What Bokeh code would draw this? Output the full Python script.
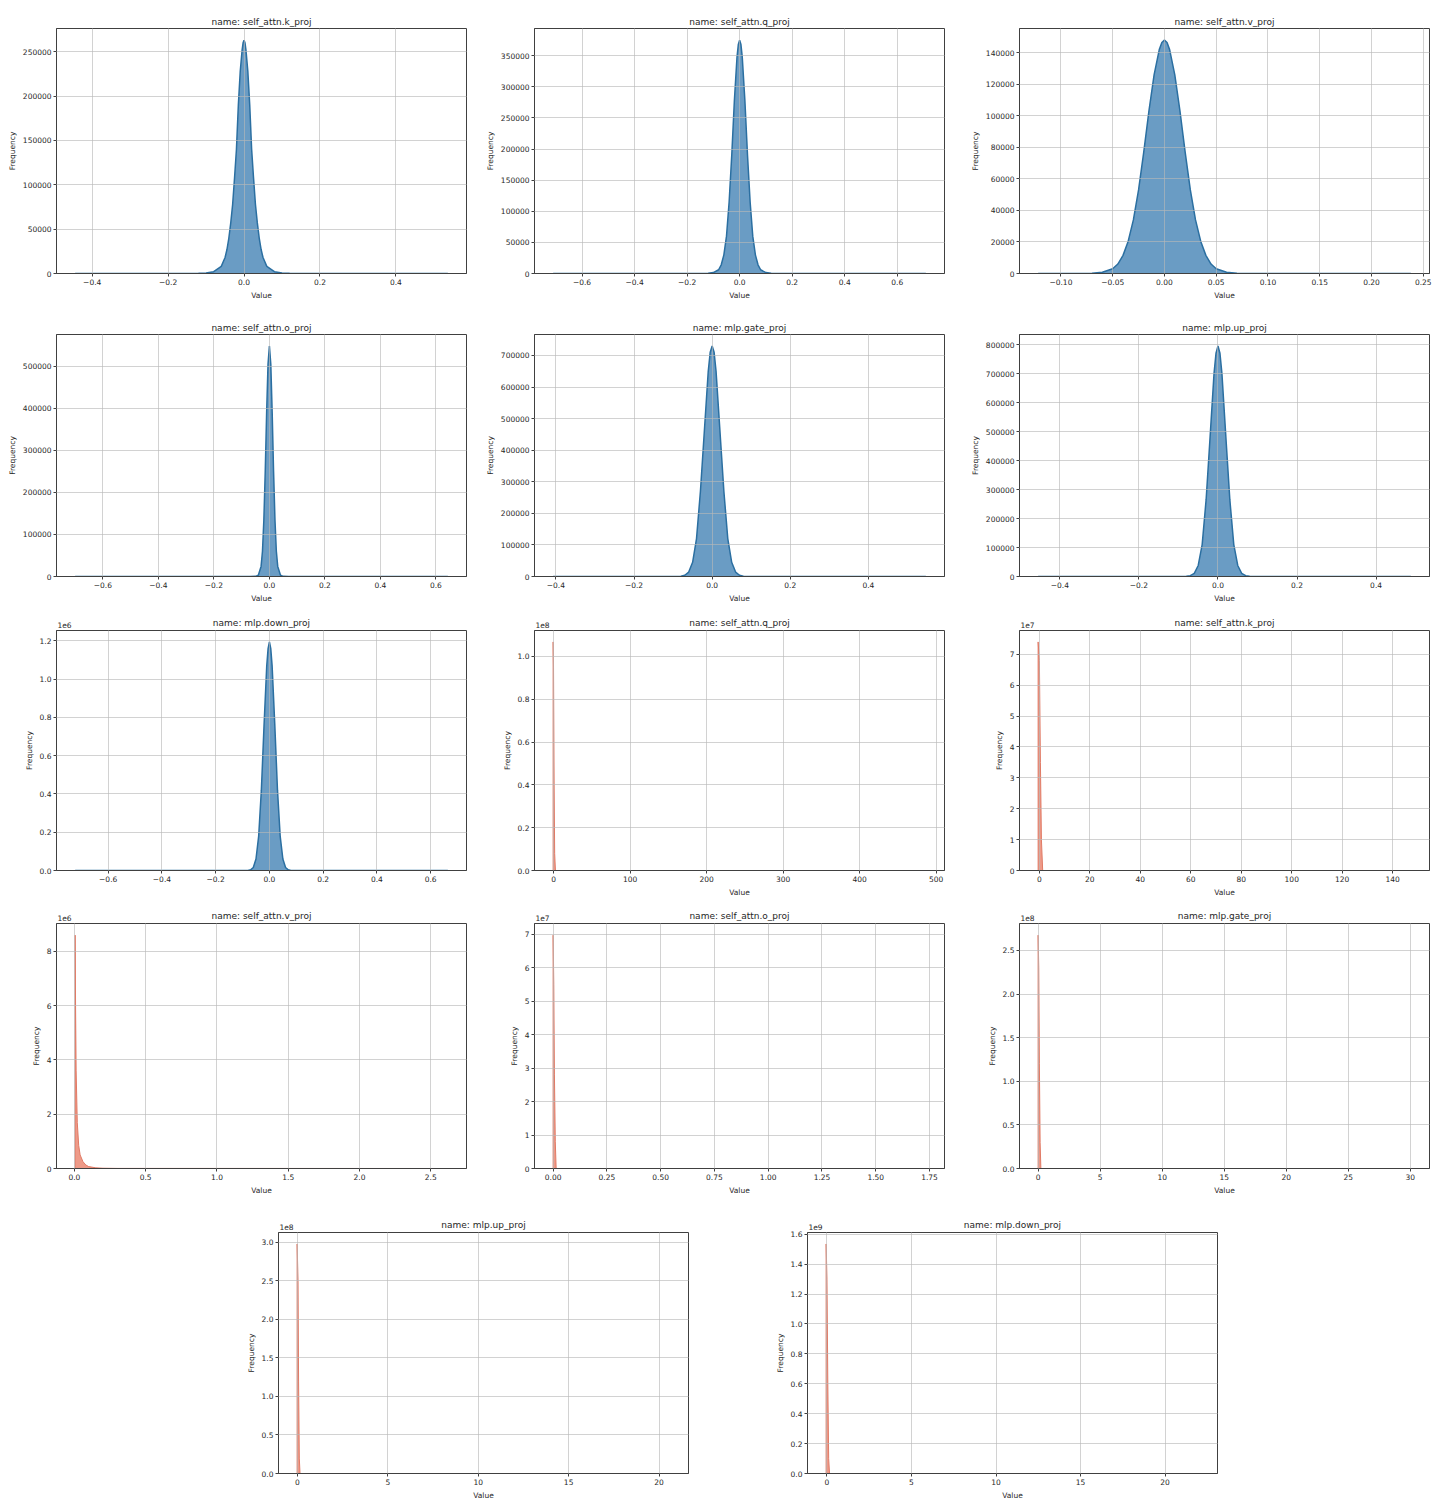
from bokeh.plotting import figure
from bokeh.layouts import column, row
from bokeh.models import FixedTicker, CustomJSTickFormatter, Spacer, Range1d, LinearAxis
from bokeh.embed import file_html
from bokeh.resources import INLINE

# ---------------- data ----------------
TITLES = ["name: self_attn.k_proj", "name: self_attn.q_proj", "name: self_attn.v_proj",
          "name: self_attn.o_proj", "name: mlp.gate_proj", "name: mlp.up_proj",
          "name: mlp.down_proj", "name: self_attn.q_proj", "name: self_attn.k_proj",
          "name: self_attn.v_proj", "name: self_attn.o_proj", "name: mlp.gate_proj",
          "name: mlp.up_proj", "name: mlp.down_proj"]

# blue panels (weights)
W_K_X = [-0.445, -0.2, -0.15, -0.12, -0.1, -0.08, -0.06, -0.05, -0.045, -0.04, -0.035, -0.03, -0.025, -0.02,
         -0.015, -0.01, -0.005, -0.0025, 0.0, 0.0025, 0.005, 0.01, 0.015, 0.02, 0.025, 0.03, 0.035, 0.04,
         0.045, 0.05, 0.06, 0.08, 0.1, 0.12, 0.15, 0.2, 0.537]
W_K_Y = [0, 8, 40, 150, 600, 2000, 8000, 18000, 27000, 40000, 57000, 78000, 108000, 140000,
         190000, 228000, 252000, 260000, 263000, 260000, 252000, 228000, 190000, 140000, 108000, 78000, 57000, 40000,
         27000, 18000, 8000, 2000, 600, 150, 40, 8, 0]

W_Q_X = [-0.71, -0.3, -0.2, -0.15, -0.12, -0.1, -0.08, -0.07, -0.06, -0.05, -0.04, -0.03, -0.02, -0.01, -0.005, 0.0,
         0.005, 0.01, 0.02, 0.03, 0.04, 0.05, 0.06, 0.07, 0.08, 0.1, 0.12, 0.15, 0.2, 0.3, 0.709]
W_Q_Y = [0, 10, 20, 100, 400, 1500, 6000, 14000, 30000, 60000, 115000, 190000, 278000, 348000, 368000, 375000,
         368000, 348000, 278000, 190000, 115000, 60000, 30000, 14000, 6000, 1500, 400, 100, 20, 10, 0]

W_V_X = [-0.122, -0.1, -0.08, -0.07, -0.06, -0.05, -0.045, -0.04, -0.035, -0.03, -0.025, -0.02, -0.015, -0.01,
         -0.005, -0.0025, 0.0, 0.0025, 0.005, 0.01, 0.015, 0.02, 0.025, 0.03, 0.035, 0.04, 0.045, 0.05, 0.06,
         0.07, 0.08, 0.1, 0.15, 0.238]
W_V_Y = [0, 8, 50, 200, 800, 3000, 6000, 11500, 20500, 34000, 53000, 77000, 103000, 126000,
         142000, 146500, 148000, 146500, 142000, 126000, 103000, 77000, 53000, 34000, 20500, 11500, 6000, 3000, 800,
         200, 50, 8, 2, 0]

W_O_X = [-0.70, -0.1, -0.07, -0.05, -0.04, -0.03, -0.025, -0.02, -0.015, -0.01, -0.005, 0.0,
         0.005, 0.01, 0.015, 0.02, 0.025, 0.03, 0.04, 0.05, 0.07, 0.1, 0.643]
W_O_Y = [0, 5, 40, 400, 3000, 24000, 60000, 135000, 250000, 390000, 505000, 548000,
         505000, 390000, 250000, 135000, 60000, 24000, 3000, 400, 40, 5, 0]

W_GATE_X = [-0.407, -0.15, -0.1, -0.08, -0.07, -0.06, -0.05, -0.04, -0.03, -0.02, -0.01, -0.005, 0.0,
            0.005, 0.01, 0.02, 0.03, 0.04, 0.05, 0.06, 0.07, 0.08, 0.1, 0.15, 0.547]
W_GATE_Y = [0, 10, 150, 1000, 4000, 14000, 45000, 120000, 270000, 460000, 650000, 710000, 730000,
            710000, 650000, 460000, 270000, 120000, 45000, 14000, 4000, 1000, 150, 10, 0]

W_UP_X = [-0.455, -0.15, -0.1, -0.08, -0.07, -0.06, -0.05, -0.04, -0.03, -0.02, -0.01, -0.005, 0.0,
          0.005, 0.01, 0.02, 0.03, 0.04, 0.05, 0.06, 0.07, 0.08, 0.1, 0.15, 0.488]
W_UP_Y = [0, 5, 100, 700, 3000, 11000, 38000, 110000, 265000, 480000, 700000, 770000, 795000,
          770000, 700000, 480000, 265000, 110000, 38000, 11000, 3000, 700, 100, 5, 0]

W_DOWN_X = [-0.723, -0.15, -0.1, -0.08, -0.07, -0.06, -0.05, -0.04, -0.03, -0.02, -0.01, -0.005, 0.0,
            0.005, 0.01, 0.02, 0.03, 0.04, 0.05, 0.06, 0.07, 0.08, 0.1, 0.15, 0.664]
W_DOWN_Y = [0, 5, 50, 600, 3500, 16000, 60000, 180000, 420000, 760000, 1070000, 1160000, 1195000,
            1160000, 1070000, 760000, 420000, 180000, 60000, 16000, 3500, 600, 50, 5, 0]

# red panels (activations)
A_Q_X = [-0.5, -0.5, 0.0, 0.8, 1.5, 2.5, 486.5]
A_Q_Y = [0, 1.068e8, 9.5e7, 4.0e7, 8.0e6, 0, 0]

A_K_X = [-0.5, -0.5, 0.0, 0.4, 0.8, 1.3, 147.2]
A_K_Y = [0, 7.4e7, 6.8e7, 3.5e7, 1.0e7, 0, 0]

A_V_X = [0.005, 0.005, 0.008, 0.012, 0.02, 0.03, 0.04, 0.06, 0.08, 0.1, 0.15, 0.2, 0.3, 2.62]
A_V_Y = [0, 8.6e6, 6.0e6, 3.6e6, 1.7e6, 0.85e6, 0.5e6, 0.25e6, 0.13e6, 0.07e6, 0.025e6, 0.01e6, 0.003e6, 0]

A_O_X = [0.0, 0.0, 0.003, 0.006, 0.01, 0.014, 1.733]
A_O_Y = [0, 6.98e7, 5.5e7, 2.8e7, 8.0e6, 0, 0]

A_GATE_X = [0.0, 0.0, 0.05, 0.1, 0.16, 0.22, 30.05]
A_GATE_Y = [0, 2.675e8, 2.3e8, 1.2e8, 3.0e7, 0, 0]

A_UP_X = [-0.02, -0.02, 0.03, 0.06, 0.1, 0.14, 20.6]
A_UP_Y = [0, 2.98e8, 2.5e8, 1.2e8, 2.0e7, 0, 0]

A_DOWN_X = [-0.05, -0.05, 0.0, 0.05, 0.1, 0.15, 22.0]
A_DOWN_Y = [0, 1.535e9, 1.3e9, 6.0e8, 1.0e8, 0, 0]

# tick values and labels
M = "\u2212"
XT_K = [-0.4, -0.2, 0.0, 0.2, 0.4]
XL_K = [M + "0.4", M + "0.2", "0.0", "0.2", "0.4"]
XT_Q = [-0.6, -0.4, -0.2, 0.0, 0.2, 0.4, 0.6]
XL_Q = [M + "0.6", M + "0.4", M + "0.2", "0.0", "0.2", "0.4", "0.6"]
XT_V = [-0.10, -0.05, 0.0, 0.05, 0.10, 0.15, 0.20, 0.25]
XL_V = [M + "0.10", M + "0.05", "0.00", "0.05", "0.10", "0.15", "0.20", "0.25"]
XT_A_Q = [0, 100, 200, 300, 400, 500]
XL_A_Q = ["0", "100", "200", "300", "400", "500"]
XT_A_K = [0, 20, 40, 60, 80, 100, 120, 140]
XL_A_K = ["0", "20", "40", "60", "80", "100", "120", "140"]
XT_A_V = [0.0, 0.5, 1.0, 1.5, 2.0, 2.5]
XL_A_V = ["0.0", "0.5", "1.0", "1.5", "2.0", "2.5"]
XT_A_O = [0.0, 0.25, 0.5, 0.75, 1.0, 1.25, 1.5, 1.75]
XL_A_O = ["0.00", "0.25", "0.50", "0.75", "1.00", "1.25", "1.50", "1.75"]
XT_A_GATE = [0, 5, 10, 15, 20, 25, 30]
XL_A_GATE = ["0", "5", "10", "15", "20", "25", "30"]
XT_A_20 = [0, 5, 10, 15, 20]
XL_A_20 = ["0", "5", "10", "15", "20"]

YT_K = [0, 50000, 100000, 150000, 200000, 250000]
YT_Q = [0, 50000, 100000, 150000, 200000, 250000, 300000, 350000]
YT_V = [0, 20000, 40000, 60000, 80000, 100000, 120000, 140000]
YT_O = [0, 100000, 200000, 300000, 400000, 500000]
YT_GATE = [0, 100000, 200000, 300000, 400000, 500000, 600000, 700000]
YT_UP = [0, 100000, 200000, 300000, 400000, 500000, 600000, 700000, 800000]
YT_DOWN = [0, 0.2e6, 0.4e6, 0.6e6, 0.8e6, 1.0e6, 1.2e6]
YL_DOWN = ["0.0", "0.2", "0.4", "0.6", "0.8", "1.0", "1.2"]
YT_A_Q = [0, 0.2e8, 0.4e8, 0.6e8, 0.8e8, 1.0e8]
YL_A_Q = ["0.0", "0.2", "0.4", "0.6", "0.8", "1.0"]
YT_A_K = [0, 1e7, 2e7, 3e7, 4e7, 5e7, 6e7, 7e7]
YL_A_K = ["0", "1", "2", "3", "4", "5", "6", "7"]
YT_A_V = [0, 2e6, 4e6, 6e6, 8e6]
YL_A_V = ["0", "2", "4", "6", "8"]
YT_A_GATE = [0, 0.5e8, 1.0e8, 1.5e8, 2.0e8, 2.5e8]
YL_A_GATE = ["0.0", "0.5", "1.0", "1.5", "2.0", "2.5"]
YT_A_UP = [0, 0.5e8, 1.0e8, 1.5e8, 2.0e8, 2.5e8, 3.0e8]
YL_A_UP = ["0.0", "0.5", "1.0", "1.5", "2.0", "2.5", "3.0"]
YT_A_DOWN = [0, 0.2e9, 0.4e9, 0.6e9, 0.8e9, 1.0e9, 1.2e9, 1.4e9, 1.6e9]
YL_A_DOWN = ["0.0", "0.2", "0.4", "0.6", "0.8", "1.0", "1.2", "1.4", "1.6"]

# ---------------- styling ----------------
FONT = "DejaVu Sans"
TXT = "#262626"
BLUE_FILL, BLUE_LINE = "#6a9cc4", "#2b6fa1"
RED_FILL, RED_LINE = "#ee9a88", "#e07a65"
FRAME_W, FRAME_H = 410, 245

FMT_CODE = """
let best = 0; let bd = Infinity;
for (let i = 0; i < t.length; i++) { const d = Math.abs(t[i] - tick); if (d < bd) { bd = d; best = i; } }
return l[best];
"""


def style_axis(ax):
    ax.axis_label_text_font = FONT
    ax.axis_label_text_font_size = "7.5px"
    ax.axis_label_text_font_style = "normal"
    ax.axis_label_text_color = TXT
    ax.axis_label_standoff = 3
    ax.major_label_text_font = FONT
    ax.major_label_text_font_size = "7.5px"
    ax.major_label_text_color = TXT
    ax.major_label_standoff = 2
    ax.major_tick_out = 3
    ax.major_tick_in = 0
    ax.major_tick_line_color = "#404040"
    ax.minor_tick_line_color = None
    ax.axis_line_color = "#404040"


def panel(title, xs, ys, xt, xl, yt, yl, offset, fill, line, lw, left, right, top, bottom, xlabel=True):
    xmin, xmax = min(xs), max(xs)
    span = xmax - xmin
    ymax = max(ys)
    x0, x1 = xmin - 0.05 * span, xmax + 0.05 * span
    p = figure(width=left + FRAME_W + right, height=top + FRAME_H + bottom,
               x_range=Range1d(x0, x1), y_range=Range1d(0, 1.05 * ymax),
               output_backend="svg", toolbar_location=None,
               title=None if offset else title,
               min_border_left=left, min_border_right=right,
               min_border_top=top, min_border_bottom=bottom)
    if not offset:
        p.title.text_font = FONT
        p.title.text_font_size = "9px"
        p.title.text_font_style = "normal"
        p.title.text_color = TXT
        p.title.align = "center"
        p.title.standoff = 3
    p.background_fill_color = "white"
    p.border_fill_color = "white"
    p.outline_line_color = "#404040"
    p.outline_line_width = 1

    p.varea(x=xs, y1=[0] * len(xs), y2=ys, fill_color=fill, fill_alpha=1.0)
    p.line(x=xs, y=ys, line_color=line, line_width=lw)

    p.xaxis.ticker = FixedTicker(ticks=xt)
    p.xaxis.formatter = CustomJSTickFormatter(args=dict(t=xt, l=xl), code=FMT_CODE)
    p.yaxis.ticker = FixedTicker(ticks=yt)
    if yl is None:
        yl = [str(int(v)) for v in yt]
    p.yaxis.formatter = CustomJSTickFormatter(args=dict(t=yt, l=yl), code=FMT_CODE)
    if xlabel:
        p.xaxis.axis_label = "Value"
    p.yaxis.axis_label = "Frequency"
    style_axis(p.xaxis[0])
    style_axis(p.yaxis[0])
    for g in (p.xgrid[0], p.ygrid[0]):
        g.grid_line_color = "#b8b8b8"
        g.grid_line_width = 0.8
        g.grid_line_alpha = 0.8
        g.level = "guide"
    if offset:
        # matplotlib-style offset text ("1e6") at the top-left, with the title on the same line
        pos = x0 + 8.0 * (x1 - x0) / FRAME_W
        top_ax = LinearAxis(ticker=FixedTicker(ticks=[pos]),
                            formatter=CustomJSTickFormatter(args=dict(s=offset), code="return s;"),
                            axis_label=title)
        top_ax.axis_line_color = None
        top_ax.major_tick_line_color = None
        top_ax.minor_tick_line_color = None
        top_ax.major_tick_out = 0
        top_ax.major_tick_in = 0
        top_ax.major_label_standoff = 3
        top_ax.major_label_text_font = FONT
        top_ax.major_label_text_font_size = "7.5px"
        top_ax.major_label_text_color = TXT
        top_ax.axis_label_standoff = -9
        top_ax.axis_label_text_font = FONT
        top_ax.axis_label_text_font_size = "9px"
        top_ax.axis_label_text_font_style = "normal"
        top_ax.axis_label_text_color = TXT
        p.add_layout(top_ax, "above")
    return p


B = (BLUE_FILL, BLUE_LINE, 1.5)
R = (RED_FILL, RED_LINE, 1.0)

r1 = [
    panel(TITLES[0], W_K_X, W_K_Y, XT_K, XL_K, YT_K, None, None, *B, 56, 10, 28, 30),
    panel(TITLES[1], W_Q_X, W_Q_Y, XT_Q, XL_Q, YT_Q, None, None, *B, 58, 10, 28, 30),
    panel(TITLES[2], W_V_X, W_V_Y, XT_V, XL_V, YT_V, None, None, *B, 65, 5, 28, 30),
]
r2 = [
    panel(TITLES[3], W_O_X, W_O_Y, XT_Q, XL_Q, YT_O, None, None, *B, 56, 10, 31, 26),
    panel(TITLES[4], W_GATE_X, W_GATE_Y, XT_K, XL_K, YT_GATE, None, None, *B, 58, 10, 31, 26),
    panel(TITLES[5], W_UP_X, W_UP_Y, XT_K, XL_K, YT_UP, None, None, *B, 65, 5, 31, 26),
]
r3 = [
    panel(TITLES[6], W_DOWN_X, W_DOWN_Y, XT_Q, XL_Q, YT_DOWN, YL_DOWN, "1e6", *B, 56, 10, 25, 24, xlabel=False),
    panel(TITLES[7], A_Q_X, A_Q_Y, XT_A_Q, XL_A_Q, YT_A_Q, YL_A_Q, "1e8", *R, 58, 10, 25, 24),
    panel(TITLES[8], A_K_X, A_K_Y, XT_A_K, XL_A_K, YT_A_K, YL_A_K, "1e7", *R, 65, 5, 25, 24),
]
r4 = [
    panel(TITLES[9], A_V_X, A_V_Y, XT_A_V, XL_A_V, YT_A_V, YL_A_V, "1e6", *R, 56, 10, 24, 32),
    panel(TITLES[10], A_O_X, A_O_Y, XT_A_O, XL_A_O, YT_A_K, YL_A_K, "1e7", *R, 58, 10, 24, 32),
    panel(TITLES[11], A_GATE_X, A_GATE_Y, XT_A_GATE, XL_A_GATE, YT_A_GATE, YL_A_GATE, "1e8", *R, 65, 5, 24, 32),
]
f13 = panel(TITLES[12], A_UP_X, A_UP_Y, XT_A_20, XL_A_20, YT_A_UP, YL_A_UP, "1e8", *R, 48, 10, 32, 25)
f14 = panel(TITLES[13], A_DOWN_X, A_DOWN_Y, XT_A_20, XL_A_20, YT_A_DOWN, YL_A_DOWN, "1e9", *R, 58, 10, 32, 25)
r5 = [Spacer(width=230, height=302), f13, Spacer(width=51, height=302), f14]

layout = column(row(*r1), row(*r2), row(*r3), row(*r4), row(*r5))

with open("out.html", "w") as fh:
    fh.write(file_html(layout, INLINE))
